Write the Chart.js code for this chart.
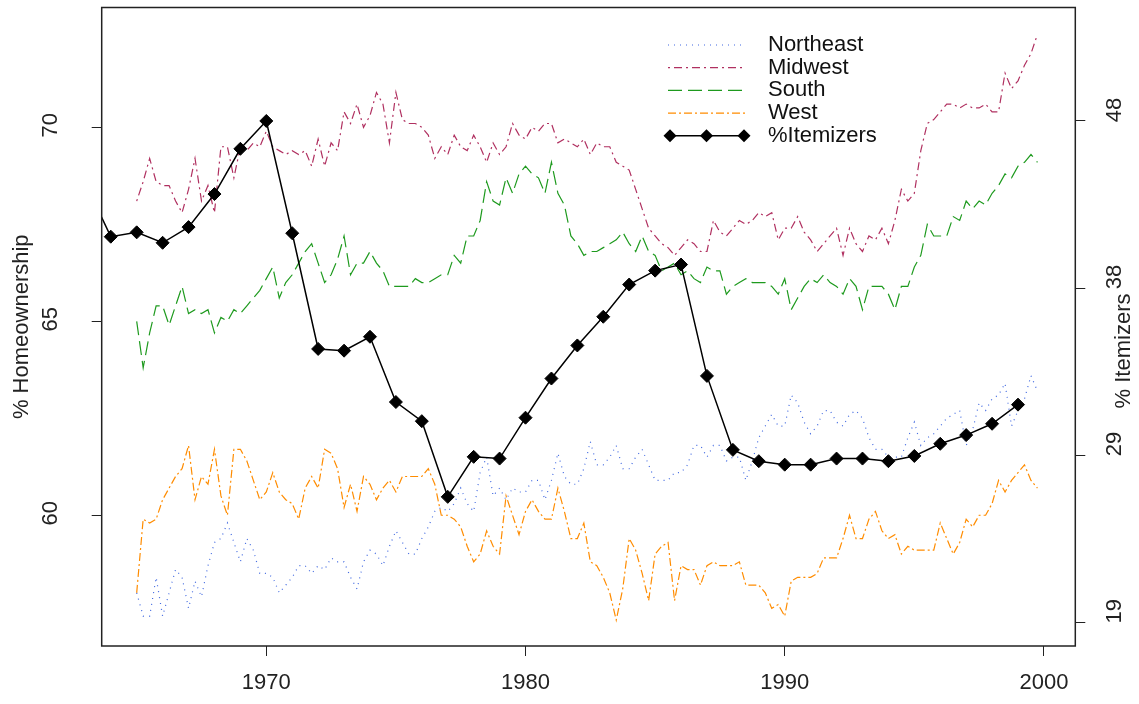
<!DOCTYPE html>
<html>
<head>
<meta charset="utf-8">
<script src="https://cdn.jsdelivr.net/npm/chart.js"></script>
<style>
  html, body { margin: 0; padding: 0; background: #fff; }
  canvas { display: block; }
</style>
</head>
<body>
<canvas id="chart" width="1139" height="704"></canvas>
<script>
// quarterly homeownership, 1965 Q1 .. 1999 Q4
var firstYear = 1965, lastYear = 1999;
var northeast = [
  58.0, 57.4, 57.4, 58.4,  57.4, 58.0, 58.6, 58.4,  57.6, 58.3, 57.9, 58.7,  59.3, 59.4, 59.8, 59.3,
  58.8, 59.4, 59.1, 58.5,  58.5, 58.4, 58.0, 58.2,  58.4, 58.7, 58.7, 58.5,  58.7, 58.6, 58.9, 58.8,
  58.8, 58.4, 58.1, 58.8,  59.1, 59.0, 58.7, 59.2,  59.6, 59.3, 59.0, 59.0,  59.4, 59.7, 60.1, 60.2,
  60.1, 60.3, 60.7, 60.3,  60.1, 61.1, 61.5, 60.5,  60.7, 60.4, 60.7, 60.6,  60.6, 60.9, 60.9, 60.4,
  60.9, 61.6, 61.0, 60.8,  60.8, 61.2, 61.9, 61.3,  61.3, 61.5, 61.8, 61.2,  61.2, 61.5, 61.7, 61.3,
  60.9, 60.9, 60.9, 61.1,  61.1, 61.3, 61.8, 61.8,  61.5, 61.8, 61.8, 61.4,  61.5, 61.5, 60.9, 61.4,
  62.0, 62.3, 62.6, 62.3,  62.3, 63.1, 62.9, 62.4,  62.1, 62.3, 62.7, 62.7,  62.4, 62.3, 62.6, 62.7,
  62.5, 62.0, 61.7, 61.7,  61.5, 61.5, 61.5, 62.0,  62.4, 61.8, 62.0, 62.1,  62.3, 62.5, 62.6, 62.7,
  61.8, 62.2, 62.9, 62.7,  63.0, 63.1, 63.4, 62.3,  62.7, 63.0, 63.6, 63.2
];
var midwest = [
  68.1, 68.6, 69.2, 68.6,  68.5, 68.5, 68.1, 67.8,  68.4, 69.2, 68.1, 68.5,  67.8, 69.5, 69.5, 68.7,
  69.5, 69.4, 69.6, 69.5,  69.9, 69.5, 69.4, 69.3,  69.4, 69.3, 69.4, 69.0,  69.7, 69.0, 69.6, 69.4,
  70.4, 70.1, 70.6, 70.0,  70.3, 70.9, 70.6, 69.6,  70.9, 70.2, 70.1, 70.1,  70.0, 69.8, 69.2, 69.5,
  69.3, 69.8, 69.5, 69.4,  69.8, 69.5, 69.1, 69.6,  69.3, 69.5, 70.1, 69.8,  69.7, 70.0, 69.9, 70.1,
  70.1, 69.6, 69.7, 69.6,  69.5, 69.7, 69.3, 69.6,  69.5, 69.5, 69.1, 69.0,  68.9, 68.4, 67.9, 67.4,
  67.2, 67.0, 66.9, 66.7,  66.9, 67.1, 67.0, 66.8,  66.8, 67.6, 67.3, 67.2,  67.4, 67.6, 67.5, 67.6,
  67.8, 67.7, 67.8, 67.1,  67.4, 67.4, 67.7, 67.3,  67.1, 66.8, 67.0, 67.2,  67.4, 66.7, 67.4, 67.0,
  66.8, 67.2, 67.1, 67.4,  67.0, 67.6, 68.4, 68.1,  68.3, 69.4, 70.1, 70.2,  70.4, 70.6, 70.6, 70.5,
  70.6, 70.5, 70.5, 70.6,  70.4, 70.4, 71.4, 71.0,  71.2, 71.6, 71.9, 72.4
];
var south = [
  65.0, 63.8, 64.7, 65.4,  65.4, 64.9, 65.4, 65.9,  65.2, 65.3, 65.2, 65.3,  64.7, 65.1, 65.0, 65.3,
  65.2, 65.4, 65.6, 65.8,  66.1, 66.4, 65.6, 66.0,  66.2, 66.5, 66.8, 67.0,  66.5, 66.0, 66.2, 66.6,
  67.2, 66.2, 66.5, 66.5,  66.8, 66.5, 66.3, 65.9,  65.9, 65.9, 65.9, 66.1,  66.0, 66.0, 66.1, 66.2,
  66.2, 66.7, 66.5, 67.2,  67.2, 67.6, 68.6, 68.1,  68.0, 68.7, 68.3, 68.8,  69.0, 68.8, 68.7, 68.3,
  69.1, 68.3, 68.0, 67.2,  67.0, 66.7, 66.8, 66.8,  66.9, 67.0, 67.1, 67.3,  67.0, 66.8, 67.2, 66.8,
  66.7, 66.3, 66.4, 66.5,  66.2, 66.3, 66.1, 66.0,  66.4, 66.3, 66.3, 65.7,  65.9, 66.0, 66.1, 66.0,
  66.0, 66.0, 65.9, 65.7,  66.1, 65.3, 65.6, 65.9,  66.1, 66.0, 66.2, 66.0,  65.9, 65.7, 66.1, 65.9,
  65.3, 65.9, 65.9, 65.9,  65.7, 65.3, 65.9, 65.9,  66.4, 66.7, 67.5, 67.2,  67.2, 67.2, 67.7, 67.6,
  68.1, 67.9, 68.1, 68.0,  68.3, 68.5, 68.8, 68.7,  69.0, 69.1, 69.3, 69.1
];
var west = [
  58.0, 59.9, 59.8, 59.9,  60.4, 60.7, 61.0, 61.2,  61.8, 60.4, 61.0, 60.8,  61.7, 60.5, 60.0, 61.7,
  61.7, 61.4, 60.9, 60.4,  60.6, 61.1, 60.6, 60.4,  60.3, 59.9, 60.7, 61.0,  60.7, 61.7, 61.6, 61.2,
  60.2, 60.8, 60.1, 61.0,  60.8, 60.4, 60.7, 60.9,  60.6, 61.0, 61.0, 61.0,  61.0, 61.2, 60.8, 60.0,
  60.0, 59.9, 59.7, 59.2,  58.8, 59.0, 59.6, 59.2,  59.0, 60.5, 60.0, 59.5,  60.1, 60.4, 60.1, 59.9,
  59.9, 60.7, 60.1, 59.4,  59.4, 59.8, 58.8, 58.7,  58.4, 58.0, 57.3, 58.1,  59.4, 59.1, 58.5, 57.8,
  59.0, 59.2, 59.3, 57.8,  58.7, 58.6, 58.6, 58.2,  58.7, 58.8, 58.7, 58.7,  58.7, 58.8, 58.2, 58.2,
  58.2, 58.0, 57.6, 57.7,  57.4, 58.3, 58.4, 58.4,  58.4, 58.5, 58.9, 58.9,  58.9, 59.4, 60.0, 59.4,
  59.4, 59.9, 60.1, 59.6,  59.4, 59.5, 59.0, 59.2,  59.1, 59.1, 59.1, 59.1,  59.8, 59.4, 59.0, 59.3,
  59.9, 59.7, 60.0, 60.0,  60.3, 60.9, 60.6, 60.9,  61.1, 61.3, 60.9, 60.7
];

// annual % itemizers (right axis)
var itemYears = [1963, 1964, 1965, 1966, 1967, 1968, 1969, 1970, 1971, 1972, 1973, 1974, 1975,
  1976, 1977, 1978, 1979, 1980, 1981, 1982, 1983, 1984, 1985, 1986, 1987, 1988, 1989,
  1990, 1991, 1992, 1993, 1994, 1995, 1996, 1997, 1998, 1999];
var itemizers = [44.3, 41.15, 41.4, 40.8, 41.7, 43.6, 46.2, 47.8, 41.35, 34.7, 34.6, 35.4, 31.65,
  30.55, 26.2, 28.5, 28.4, 30.75, 33.0, 34.9, 36.55, 38.4, 39.2, 39.55, 33.15, 28.9, 28.25,
  28.05, 28.05, 28.4, 28.4, 28.25, 28.55, 29.25, 29.75, 30.4, 31.5];

var xTicks = [1970, 1980, 1990, 2000];
var leftTicks = [60, 65, 70];
var rightTicks = [19.0, 28.6, 38.2, 47.8];
var rightTickLabels = ["19", "29", "38", "48"];

var seriesNames = ["Northeast", "Midwest", "South", "West", "%Itemizers"];
var seriesColors = ["#4169E1", "#B03060", "#1E9A1E", "#FF8C00", "#000000"];
var seriesDash = [[1, 5], [2, 4, 8, 4], [14, 6], [8, 3, 2, 3]];

var FONT = '"Liberation Sans", Arial, sans-serif';

function quarterly(vals) {
  var pts = [];
  for (var i = 0; i < vals.length; i++) {
    pts.push({ x: firstYear + Math.floor(i / 4) + (i % 4) / 4, y: vals[i] });
  }
  return pts;
}

var regionData = [northeast, midwest, south, west];
var datasets = regionData.map(function (vals, i) {
  return {
    label: seriesNames[i],
    data: quarterly(vals),
    yAxisID: "y",
    borderColor: seriesColors[i],
    borderWidth: 1.2,
    borderDash: seriesDash[i],
    pointRadius: 0,
    tension: 0,
    order: 1
  };
});
datasets.push({
  label: seriesNames[4],
  data: itemYears.map(function (yr, i) { return { x: yr, y: itemizers[i] }; }),
  yAxisID: "y2",
  borderColor: "#000",
  borderWidth: 1.5,
  pointStyle: "rectRot",
  pointRadius: 6.5,
  pointBackgroundColor: "#000",
  pointBorderColor: "#000",
  pointBorderWidth: 1,
  tension: 0,
  order: 0
});

var decor = {
  id: "decor",
  afterDraw: function (chart) {
    var ctx = chart.ctx, a = chart.chartArea, s = chart.scales;
    ctx.save();
    ctx.strokeStyle = "#222";
    ctx.lineWidth = 1.5;
    ctx.strokeRect(a.left, a.top, a.right - a.left, a.bottom - a.top);

    ctx.fillStyle = "#222";
    ctx.font = "22px " + FONT;
    ctx.textAlign = "center";
    ctx.textBaseline = "middle";
    leftTicks.forEach(function (v) {
      var y = s.y.getPixelForValue(v);
      ctx.save(); ctx.translate(51, y - 2); ctx.rotate(-Math.PI / 2);
      ctx.fillText(String(v), 0, 0); ctx.restore();
    });
    rightTicks.forEach(function (v, i) {
      var y = s.y2.getPixelForValue(v);
      ctx.save(); ctx.translate(1115, y - 11); ctx.rotate(-Math.PI / 2);
      ctx.fillText(rightTickLabels[i], 0, 0); ctx.restore();
    });
    ctx.save(); ctx.translate(22, (a.top + a.bottom) / 2); ctx.rotate(-Math.PI / 2);
    ctx.fillText("% Homeownership", 0, 0); ctx.restore();
    ctx.save(); ctx.translate(1124, 351); ctx.rotate(-Math.PI / 2);
    ctx.fillText("% Itemizers", 0, 0); ctx.restore();

    // legend
    var lx0 = 668, lx1 = 745, tx = 768, ly = 45, step = 22.7;
    ctx.textAlign = "left";
    chart.data.datasets.forEach(function (ds, i) {
      var y = ly + i * step;
      ctx.strokeStyle = ds.borderColor;
      ctx.lineWidth = ds.borderWidth;
      ctx.setLineDash(ds.borderDash || []);
      ctx.beginPath(); ctx.moveTo(lx0, y); ctx.lineTo(lx1, y); ctx.stroke();
      ctx.setLineDash([]);
      if (ds.pointRadius > 0) {
        ctx.fillStyle = "#000";
        [lx0 + 2, (lx0 + lx1) / 2, lx1 - 1].forEach(function (px) {
          var r = ds.pointRadius;
          ctx.beginPath();
          ctx.moveTo(px, y - r); ctx.lineTo(px + r, y); ctx.lineTo(px, y + r); ctx.lineTo(px - r, y);
          ctx.closePath(); ctx.fill();
        });
      }
      ctx.fillStyle = "#111";
      ctx.fillText(ds.label, tx, y);
    });
    ctx.restore();
  }
};

var tickGrid = { drawOnChartArea: false, drawTicks: true, tickLength: 10, color: "#222", lineWidth: 1 };

new Chart(document.getElementById("chart"), {
  type: "line",
  data: { datasets: datasets },
  options: {
    responsive: false,
    animation: false,
    devicePixelRatio: 1,
    layout: { padding: { top: 5, left: 0, right: 0, bottom: 0 } },
    plugins: { legend: { display: false }, tooltip: { enabled: false } },
    scales: {
      x: {
        type: "linear",
        min: 1963.65,
        max: 2001.21,
        grid: tickGrid,
        border: { display: false },
        afterBuildTicks: function (sc) { sc.ticks = xTicks.map(function (v) { return { value: v }; }); },
        afterFit: function (sc) { sc.height = 58; },
        ticks: { color: "#222", font: { family: FONT, size: 22 }, padding: 14, maxRotation: 0,
          callback: function (v) { return String(v); } }
      },
      y: {
        type: "linear",
        position: "left",
        min: 56.63,
        max: 73.09,
        grid: tickGrid,
        border: { display: false },
        afterBuildTicks: function (sc) { sc.ticks = leftTicks.map(function (v) { return { value: v }; }); },
        afterFit: function (sc) { sc.width = 101.7; },
        ticks: { display: false }
      },
      y2: {
        type: "linear",
        position: "right",
        min: 17.63,
        max: 54.32,
        grid: tickGrid,
        border: { display: false },
        afterBuildTicks: function (sc) { sc.ticks = rightTicks.map(function (v) { return { value: v }; }); },
        afterFit: function (sc) { sc.width = 63.7; },
        ticks: { display: false }
      }
    }
  },
  plugins: [decor]
});
</script>
</body>
</html>
